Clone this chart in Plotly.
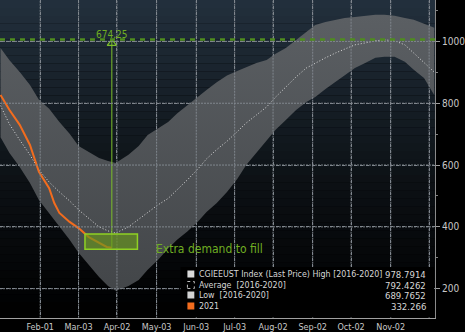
import plotly.graph_objects as go

# ---- 2016-2020 seasonal envelope (CGIEEUST Index) ----
BAND_DATES = [
    "2021-01-01", "2021-01-08", "2021-01-16", "2021-01-24", "2021-01-31",
    "2021-02-08", "2021-02-16", "2021-02-24", "2021-03-03", "2021-03-11",
    "2021-03-19", "2021-03-26", "2021-04-01", "2021-04-11", "2021-04-19",
    "2021-04-26", "2021-05-04", "2021-05-12", "2021-05-19", "2021-05-27",
    "2021-06-04", "2021-06-11", "2021-06-19", "2021-06-27", "2021-07-05",
    "2021-07-12", "2021-07-20", "2021-07-28", "2021-08-04", "2021-08-12",
    "2021-08-20", "2021-08-28", "2021-09-04", "2021-09-12", "2021-09-20",
    "2021-09-27", "2021-10-05", "2021-10-13", "2021-10-21", "2021-10-28",
    "2021-11-05", "2021-11-13", "2021-11-20", "2021-11-28", "2021-12-06",
]
HIGH = [
    978.79, 939, 901, 859, 811, 782, 739, 701, 662, 642,
    623, 613, 607, 633, 662, 697, 718, 739, 767, 794,
    820, 843, 868, 890, 904, 917, 930, 940, 960, 979,
    1005, 1028, 1053, 1063, 1070, 1076, 1079, 1083, 1086, 1086,
    1083, 1076, 1070, 1057, 1044,
]
AVERAGE = [
    792.43, 732, 681, 633, 584, 545, 513, 484, 455, 426,
    400, 387, 380, 400, 425, 448, 471, 492, 519, 552,
    586, 620, 650, 677, 708, 736, 762, 788, 820, 853,
    885, 914, 930, 947, 963, 976, 989, 995, 1002, 1005,
    1002, 989, 963, 930, 901,
]
LOW = [
    689.77, 639, 594, 542, 487, 445, 400, 358, 316, 277,
    238, 209, 193, 209, 228, 261, 293, 330, 358, 385,
    416, 448, 477, 513, 555, 600, 640, 681, 714, 746,
    778, 804, 820, 846, 869, 892, 914, 930, 947, 950,
    950, 934, 908, 882, 827,
]

# ---- 2021 year to date ----
Y2021_DATES = [
    "2021-01-01", "2021-01-08", "2021-01-16", "2021-01-24", "2021-01-31",
    "2021-02-08", "2021-02-12", "2021-02-16", "2021-02-24", "2021-03-03",
    "2021-03-11", "2021-03-19", "2021-03-25", "2021-03-29",
]
Y2021 = [827, 778, 730, 665, 578, 525, 477, 445, 416, 396, 367, 348, 335, 332.266]

# gap from the latest 2021 print up to the seasonal high
GAP = 674.25
GAP_DATE = "2021-03-29"
TARGET = Y2021[-1] + GAP

# shortfall box
BOX_DATES = ["2021-03-08", "2021-04-18"]
BOX_RANGE = [328, 377]

# axes
TICK_DATES = ["2021-02-01", "2021-03-03", "2021-04-02", "2021-05-03", "2021-06-03",
              "2021-07-03", "2021-08-02", "2021-09-02", "2021-10-02", "2021-11-02",
              "2021-12-02"]
TICK_TEXT = ["Feb-01", "Mar-03", "Apr-02", "May-03", "Jun-03",
             "Jul-03", "Aug-02", "Sep-02", "Oct-02", "Nov-02", ""]
Y_TICKS = [200, 400, 600, 800, 1000]
X_RANGE = ["2020-12-31 14:00", "2021-12-06 14:00"]
Y_RANGE = [105.2, 1134]

# legend rows: label, last value
LEGEND_ROWS = [
    ("CGIEEUST Index (Last Price) High [2016-2020]", "978.7914"),
    ("Average  [2016-2020]", "792.4262"),
    ("Low  [2016-2020]", "689.7652"),
    ("2021", "332.266"),
]

NARROW = "DejaVu Sans Condensed, Liberation Sans Narrow, sans-serif"
GREEN_TXT = "#6fae22"
GREEN_LINE = "#7cbf2a"
ORANGE = "#f26c1e"
GRID = "#80878e"

W, H = 465, 332
ML, MR, MT, MB = 0, 24, 0, 14
PW, PH = W - ML - MR, H - MT - MB


def px_x(x):
    return (x - ML) / PW


def px_y(y):
    return (PH - (y - MT)) / PH


def mix(c0, c1, t):
    a = [int(c0[i:i + 2], 16) for i in (1, 3, 5)]
    b = [int(c1[i:i + 2], 16) for i in (1, 3, 5)]
    return "#" + "".join(f"{round(p + (q - p) * t):02x}" for p, q in zip(a, b))


shapes = []
# vertical background gradient, drawn beneath everything
N_STRIPES = 40
for i in range(N_STRIPES):
    t = i / (N_STRIPES - 1)
    col = mix("#000000", "#0d1216", t / 0.45) if t < 0.45 else mix("#0d1216", "#222f3c", (t - 0.45) / 0.55)
    shapes.append(dict(type="rect", xref="paper", yref="paper",
                       x0=0, x1=1, y0=i / N_STRIPES, y1=(i + 1) / N_STRIPES,
                       line=dict(width=0), fillcolor=col, layer="below"))

fig = go.Figure()

# high / low envelope
fig.add_trace(go.Scatter(
    x=BAND_DATES, y=HIGH, mode="lines", line=dict(width=0, color="#5c6064"),
    hoverinfo="skip", showlegend=False,
))
fig.add_trace(go.Scatter(
    x=BAND_DATES, y=LOW, mode="lines", line=dict(width=0, color="#5c6064"),
    fill="tonexty",
    fillgradient=dict(type="vertical",
                      colorscale=[[0, "#434649"], [1, "#5b5f63"]]),
    hoverinfo="skip", showlegend=False,
))

# average
fig.add_trace(go.Scatter(
    x=BAND_DATES, y=AVERAGE, mode="lines",
    line=dict(width=1, color="#dadada", dash="1px,2px"),
    hoverinfo="skip", showlegend=False,
))

# 2021
fig.add_trace(go.Scatter(
    x=Y2021_DATES, y=Y2021, mode="lines",
    line=dict(width=2, color=ORANGE),
    hoverinfo="skip", showlegend=False,
))

# gap marker: vertical line with an open arrowhead
fig.add_trace(go.Scatter(
    x=[GAP_DATE, GAP_DATE], y=[Y2021[-1], TARGET], mode="lines",
    line=dict(width=1, color=GREEN_LINE), hoverinfo="skip", showlegend=False,
))
fig.add_trace(go.Scatter(
    x=[GAP_DATE], y=[TARGET], mode="markers",
    marker=dict(symbol="triangle-up-open", size=8, color=GREEN_LINE,
                line=dict(width=1.2, color=GREEN_LINE), standoff=4),
    hoverinfo="skip", showlegend=False,
))

# grid repeated over the envelope (opaque, fine dash)
grid_line = dict(color=GRID, width=1, dash="2px,1px")
for d in TICK_DATES:
    shapes.append(dict(type="line", xref="x", yref="y", x0=d, x1=d,
                       y0=Y_RANGE[0] + 1, y1=Y_RANGE[1] - 1,
                       line=grid_line, layer="above"))
for v in Y_TICKS:
    shapes.append(dict(type="line", xref="x", yref="y", x0=X_RANGE[0], x1=X_RANGE[1],
                       y0=v, y1=v, line=grid_line, layer="above"))

# seasonal-high reference level
shapes.append(dict(type="line", xref="paper", yref="y", x0=0, x1=1, y0=TARGET, y1=TARGET,
                   line=dict(color="#4f8c1f", width=2.5, dash="5px,5px"), layer="above"))

# shortfall box
shapes.append(dict(type="rect", xref="x", yref="y",
                   x0=BOX_DATES[0], x1=BOX_DATES[1], y0=BOX_RANGE[0], y1=BOX_RANGE[1],
                   line=dict(color="#8fd124", width=1.5),
                   fillcolor="rgba(105,150,28,0.65)", layer="above"))

# legend panel
shapes.append(dict(type="rect", xref="paper", yref="paper",
                   x0=px_x(183), x1=px_x(440), y0=px_y(317), y1=px_y(267),
                   line=dict(width=0), fillcolor="#000000", layer="above"))

annotations = []
row_y = [274, 285, 295, 306]
swatches = [
    dict(fillcolor="#d9d9d9", line=dict(width=0)),
    dict(fillcolor="rgba(0,0,0,0)", line=dict(width=1, color="#bdbdbd", dash="dot")),
    dict(fillcolor="#d2d2d2", line=dict(width=0)),
    dict(fillcolor=ORANGE, line=dict(width=0)),
]
for (label, val), yy, sw in zip(LEGEND_ROWS, row_y, swatches):
    shapes.append(dict(type="rect", xref="paper", yref="paper",
                       x0=px_x(190), x1=px_x(197), y0=px_y(yy + 3.5), y1=px_y(yy - 3.5),
                       layer="above", **sw))
    annotations.append(dict(xref="paper", yref="paper", x=px_x(200), y=px_y(yy),
                            text=label, showarrow=False, xanchor="left", yanchor="middle",
                            font=dict(family=NARROW, size=8.8, color="#d6d6d6")))
    annotations.append(dict(xref="paper", yref="paper", x=px_x(434), y=px_y(yy),
                            text=val, showarrow=False, xanchor="right", yanchor="middle",
                            font=dict(family=NARROW, size=9.5, color="#d6d6d6")))

# gap value label
annotations.append(dict(x=GAP_DATE, y=TARGET, text=f"{GAP:.2f}", showarrow=False,
                        xanchor="center", yanchor="bottom", yshift=-3,
                        font=dict(family=NARROW, size=10, color=GREEN_TXT)))
# box caption
annotations.append(dict(x="2021-05-01", y=BOX_RANGE[0], text="Extra demand to fill",
                        showarrow=False, xanchor="left", yanchor="middle",
                        font=dict(family=NARROW, size=12, color=GREEN_TXT)))

fig.update_layout(
    width=W, height=H,
    margin=dict(l=ML, r=MR, t=MT, b=MB, pad=0),
    paper_bgcolor="#000000", plot_bgcolor="rgba(0,0,0,0)",
    showlegend=False, hovermode=False,
    shapes=shapes, annotations=annotations,
    xaxis=dict(type="date", range=X_RANGE, tickvals=TICK_DATES, ticktext=TICK_TEXT,
               showgrid=True, gridcolor=GRID, gridwidth=1, griddash="dot",
               zeroline=False, showline=True, linecolor="#a0a0a0",
               linewidth=1, ticks="", tickfont=dict(family=NARROW, size=9, color="#c8c8c8"),
               fixedrange=True),
    yaxis=dict(side="right", range=Y_RANGE, tickvals=Y_TICKS,
               showgrid=True, gridcolor=GRID, gridwidth=1, griddash="dot",
               zeroline=False, showline=True, linecolor="#8a8a8a", linewidth=1,
               ticks="outside", ticklen=4, tickcolor="#a0a0a0",
               minor=dict(dtick=100, ticks="outside", ticklen=2, tickcolor="#808080",
                          showgrid=False),
               tickfont=dict(family=NARROW, size=10, color="#c8c8c8"), fixedrange=True),
)

fig.write_html("out.html", config={"displayModeBar": False})
